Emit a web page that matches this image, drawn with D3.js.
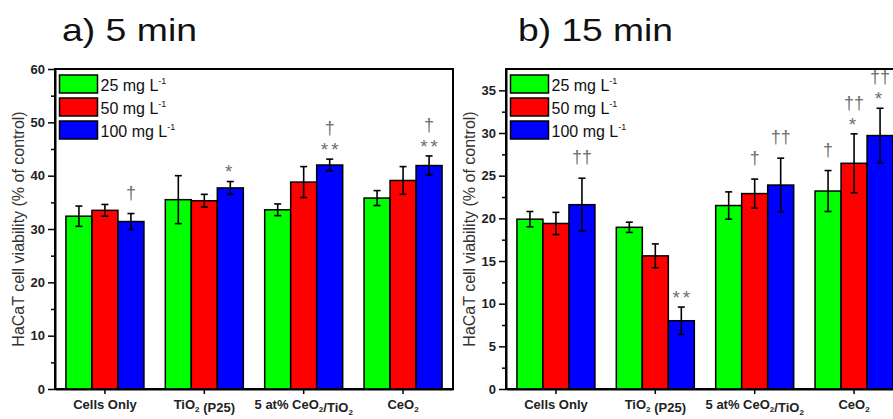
<!DOCTYPE html>
<html>
<head>
<meta charset="utf-8">
<script src="https://cdn.jsdelivr.net/npm/d3@7"></script>
<style>
  body { margin: 0; background: #fff; }
  svg { display: block; font-family: 'Liberation Sans', Arial, sans-serif; }
</style>
</head>
<body>
<svg id="chart" width="893" height="419"></svg>
<script>
const categories = ['Cells Only', 'TiO2 (P25)', '5 at% CeO2/TiO2', 'CeO2']
const seriesNames = ['25 mg L', '50 mg L', '100 mg L']
const seriesColors = ['#00ff00', '#ff0000', '#0000ff']

// a) 5 min
const min5_25 = [32.4, 35.5, 33.6, 35.8]
const min5_50 = [33.5, 35.3, 38.8, 39.1]
const min5_100 = [31.4, 37.7, 42.0, 41.9]
const err5_25 = [1.9, 4.5, 1.1, 1.4]
const err5_50 = [1.1, 1.2, 2.9, 2.6]
const err5_100 = [1.5, 1.2, 1.1, 1.8]
// significance marks, listed from the bar upwards
const marks5_25 = [[], [], [], []]
const marks5_50 = [[], [], [], []]
const marks5_100 = [['†'], ['*'], ['**', '†'], ['**', '†']]

// b) 15 min
const min15_25 = [19.9, 18.95, 21.5, 23.2]
const min15_50 = [19.4, 15.6, 22.9, 26.45]
const min15_100 = [21.6, 8.0, 23.9, 29.7]
const err15_25 = [0.9, 0.6, 1.6, 2.4]
const err15_50 = [1.3, 1.4, 1.7, 3.45]
const err15_100 = [3.1, 1.6, 3.15, 3.2]
const marks15_25 = [[], [], [], ['†']]
const marks15_50 = [[], [], ['†'], ['*', '††']]
const marks15_100 = [['††'], ['**'], ['††'], ['*', '††']]

const svg = d3.select('#chart')
const plotTop = 69
const plotBottom = 389
const panelWidth = 398

// writes "O2" with a subscript 2
function subLabel (sel, str) {
    sel.text(null)
    const parts = str.split(/(O2)/)
    parts.forEach(p => {
        if (p === 'O2') {
            sel.append('tspan').text('O')
            sel.append('tspan').attr('font-size', '8px').attr('dy', 3).text('2')
            sel.append('tspan').attr('dy', -3).text('')
        } else if (p) {
            sel.append('tspan').text(p)
        }
    })
}

function drawPanel (cfg) {
    const g = svg.append('g')
    const left = cfg.left
    const right = left + panelWidth

    const x = d3.scaleBand()
        .domain(categories)
        .range([left, right])
        .paddingInner(0.215)
        .paddingOuter(0.11)
    const xs = d3.scaleBand()
        .domain([0, 1, 2])
        .range([0, x.bandwidth()])
    const y = d3.scaleLinear()
        .domain([0, cfg.yMax])
        .range([plotBottom, plotTop])

    // title
    g.append('text')
        .attr('x', left + cfg.titleDx)
        .attr('y', 41)
        .attr('font-size', '32px')
        .attr('textLength', cfg.titleLen)
        .attr('lengthAdjust', 'spacingAndGlyphs')
        .attr('fill', '#111')
        .text(cfg.title)

    // frame (top + right)
    g.append('rect')
        .attr('x', left).attr('y', plotTop)
        .attr('width', right - left).attr('height', plotBottom - plotTop)
        .attr('fill', 'none').attr('stroke', '#000').attr('stroke-width', 2)

    const series = cfg.values
    const groups = g.selectAll('.grp')
        .data(categories)
        .enter().append('g')
        .attr('transform', d => `translate(${x(d)},0)`)

    series.forEach((vals, s) => {
        groups.append('rect')
            .attr('x', xs(s))
            .attr('y', (d, i) => y(vals[i]))
            .attr('width', xs.bandwidth())
            .attr('height', (d, i) => plotBottom - y(vals[i]))
            .attr('fill', seriesColors[s])
            .attr('stroke', '#000')
            .attr('stroke-width', 1.5)

        const errs = cfg.errors[s]
        const cx = xs(s) + xs.bandwidth() / 2
        const eb = groups.append('g').attr('stroke', '#000').attr('stroke-width', 1.6)
        eb.append('line')
            .attr('x1', cx).attr('x2', cx)
            .attr('y1', (d, i) => y(vals[i] - errs[i]))
            .attr('y2', (d, i) => y(vals[i] + errs[i]))
        eb.append('line')
            .attr('x1', cx - 3.5).attr('x2', cx + 3.5)
            .attr('y1', (d, i) => y(vals[i] + errs[i]))
            .attr('y2', (d, i) => y(vals[i] + errs[i]))
        eb.append('line')
            .attr('x1', cx - 3.5).attr('x2', cx + 3.5)
            .attr('y1', (d, i) => y(vals[i] - errs[i]))
            .attr('y2', (d, i) => y(vals[i] - errs[i]))

        // significance marks
        groups.each(function (d, i) {
            const lines = cfg.marks[s][i]
            let cursor = y(vals[i] + errs[i])
            lines.forEach((m, k) => {
                const star = m.indexOf('*') >= 0
                const gap = k === 0 ? (star ? 14 : 20) : 16
                const center = cursor - gap
                const size = star ? 19 : 18
                d3.select(this).append('text')
                    .attr('x', cx + (star && m.length > 1 ? 1.5 : 0))
                    .attr('y', center + (star ? 0.57 : 0.29) * size)
                    .attr('text-anchor', 'middle')
                    .attr('font-size', size + 'px')
                    .attr('letter-spacing', star ? '3px' : '0px')
                    .attr('fill', '#6e6e6e')
                    .text(m)
                cursor = center
            })
        })
    })

    // y axis with minor ticks
    const ticks = d3.range(0, cfg.yMax + 0.001, cfg.step)
    g.append('g')
        .attr('transform', `translate(${left},0)`)
        .call(d3.axisLeft(y).tickValues(d3.range(cfg.step / 2, cfg.yMax, cfg.step)).tickSize(4).tickFormat(''))
        .call(a => a.select('.domain').remove())
        .selectAll('line').attr('stroke-width', 1.5)
    const ya = g.append('g')
        .attr('transform', `translate(${left},0)`)
        .call(d3.axisLeft(y).tickValues(ticks).tickSize(7).tickSizeOuter(0).tickPadding(3))
    ya.select('.domain').attr('stroke-width', 2)
    ya.selectAll('line').attr('stroke-width', 1.5)
    ya.selectAll('text')
        .attr('font-size', '13px')
        .attr('font-weight', 'bold')
        .attr('font-family', "'Liberation Sans', Arial, sans-serif")
        .attr('fill', '#222')

    // x axis
    const xa = g.append('g')
        .attr('transform', `translate(0,${plotBottom})`)
        .call(d3.axisBottom(x).tickSize(5).tickSizeOuter(0).tickPadding(6))
    xa.select('.domain').attr('stroke-width', 2)
    xa.selectAll('line').attr('stroke-width', 1.5)
    xa.selectAll('text')
        .attr('font-size', '13px')
        .attr('font-weight', 'bold')
        .attr('font-family', "'Liberation Sans', Arial, sans-serif")
        .attr('fill', '#222')
        .each(function (d) { subLabel(d3.select(this), d) })

    // y label
    g.append('text')
        .attr('transform', `translate(${left - 37},${(plotTop + plotBottom) / 2}) rotate(-90)`)
        .attr('text-anchor', 'middle')
        .attr('dominant-baseline', 'central')
        .attr('font-size', '16px')
        .attr('fill', '#333')
        .text('HaCaT cell viability (% of control)')

    // legend
    const lg = g.append('g')
        .attr('transform', `translate(${left + 4.5},75)`)
    seriesNames.forEach((name, s) => {
        lg.append('rect')
            .attr('x', 0).attr('y', s * 23)
            .attr('width', 38).attr('height', 18)
            .attr('fill', seriesColors[s])
            .attr('stroke', '#000').attr('stroke-width', 1.5)
        const t = lg.append('text')
            .attr('x', 41).attr('y', s * 23 + 16)
            .attr('font-size', '16px')
            .attr('fill', '#111')
        t.append('tspan').text(name)
        t.append('tspan').attr('font-size', '9px').attr('dy', -7).text('-1')
    })
}

drawPanel({
    left: 55,
    yMax: 60,
    step: 10,
    title: 'a) 5 min',
    titleDx: 7,
    titleLen: 135,
    values: [min5_25, min5_50, min5_100],
    errors: [err5_25, err5_50, err5_100],
    marks: [marks5_25, marks5_50, marks5_100]
})

drawPanel({
    left: 506,
    yMax: 37.5,
    step: 5,
    title: 'b) 15 min',
    titleDx: 12,
    titleLen: 155,
    values: [min15_25, min15_50, min15_100],
    errors: [err15_25, err15_50, err15_100],
    marks: [marks15_25, marks15_50, marks15_100]
})
</script>
</body>
</html>
